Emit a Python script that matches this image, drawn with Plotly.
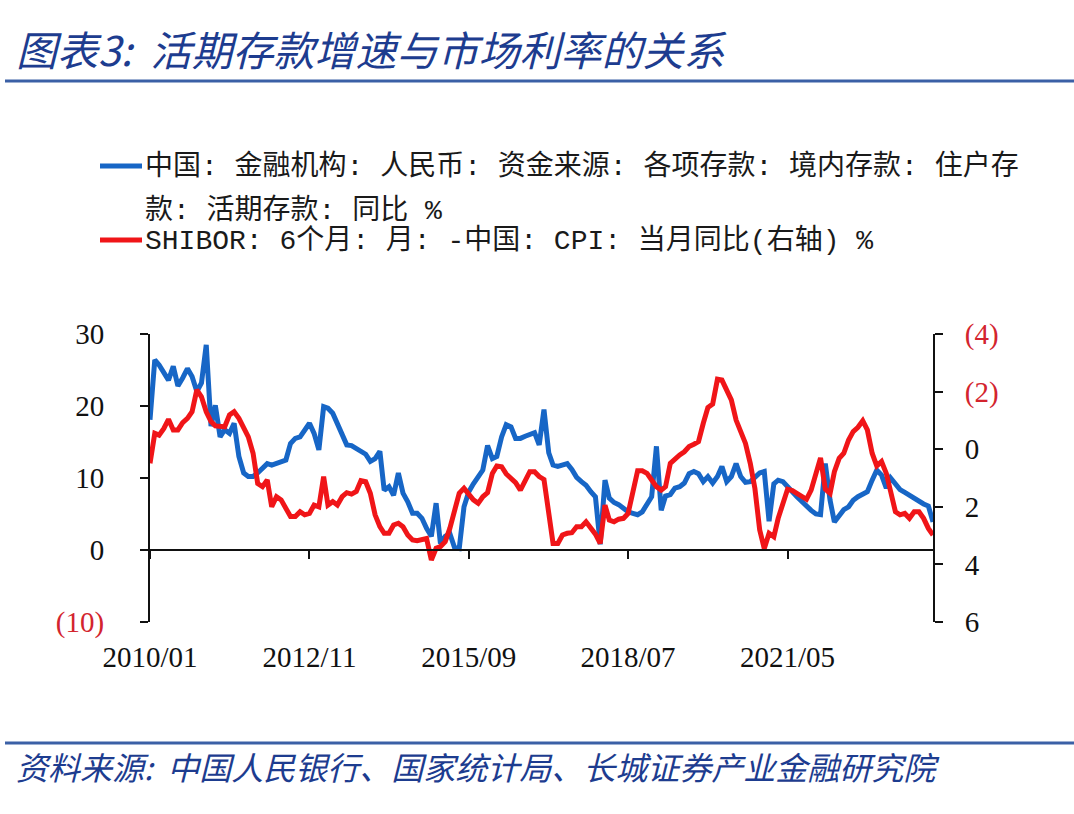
import pandas as pd
import plotly.graph_objects as go

# ---------------- data ----------------
months = pd.date_range("2010-01-01", "2023-12-01", freq="MS")

demand_deposit_yoy = [
    18.1, 26.4, 25.7, 24.5, 23.6, 25.5, 22.8, 23.9, 25.2, 24.1, 22.0, 23.2,
    28.5, 17.2, 20.1, 15.7, 16.7, 16.2, 17.6, 13.0, 10.7, 10.2, 10.2, 10.7,
    11.4, 12.0, 11.8, 12.0, 12.3, 12.5, 14.8, 15.5, 15.7, 16.7, 17.6, 16.2,
    13.9, 19.9, 19.7, 19.0, 17.6, 16.0, 14.6, 14.5, 14.1, 13.8, 13.3, 12.3,
    12.7, 13.7, 8.3, 8.8, 7.6, 10.7, 7.9, 6.7, 5.1, 5.1, 4.4, 3.0,
    1.9, 6.5, 0.9, 1.9, 2.3, 0.3, 0.2, 6.0, 8.1, 9.2, 10.2, 11.1,
    14.5, 12.7, 13.0, 15.7, 17.4, 17.1, 15.5, 15.5, 15.8, 16.0, 16.3, 14.6,
    19.5, 13.5, 11.8, 11.6, 11.8, 12.0, 11.2, 10.1, 9.5, 9.0, 8.1, 7.4,
    0.8, 9.7, 7.2, 6.6, 6.3, 5.8, 5.3, 5.1, 4.9, 5.3, 6.3, 7.4,
    14.4, 5.5, 7.5, 7.7, 8.6, 8.8, 9.3, 10.6, 10.9, 10.6, 9.5, 10.2,
    9.3, 10.2, 11.6, 9.5, 10.2, 12.0, 10.2, 9.4, 9.5, 10.2, 10.7, 10.9,
    4.0, 9.2, 9.7, 9.5, 8.9, 8.1, 7.4, 6.7, 6.1, 5.5, 5.0, 4.9,
    12.0, 6.9, 3.9, 4.9, 5.6, 6.0, 6.9, 7.4, 7.8, 8.1, 9.7, 11.1,
    10.4, 8.6, 10.0, 9.3, 8.4, 8.0, 7.6, 7.2, 6.6, 6.4, 6.1, 3.9,
]

shibor_minus_cpi = [
    0.49, -0.55, -0.49, -0.72, -1.04, -0.67, -0.67, -0.92, -1.07, -1.30, -2.06, -1.82,
    -1.30, -0.96, -0.81, -0.81, -0.78, -1.19, -1.30, -1.07, -0.78, -0.43, 0.14, 1.19,
    1.30, 1.07, 2.00, 1.65, 1.76, 2.05, 2.34, 2.34, 2.17, 2.28, 2.23, 1.94,
    2.00, 0.95, 1.94, 1.82, 1.94, 1.65, 1.51, 1.56, 1.47, 1.09, 1.13, 1.53,
    2.28, 2.69, 2.92, 2.92, 2.63, 2.57, 2.69, 2.98, 3.15, 3.18, 3.13, 3.10,
    3.85, 3.44, 3.38, 3.21, 2.75, 2.05, 1.53, 1.36, 1.59, 1.76, 1.88, 1.65,
    1.51, 0.84, 0.58, 0.61, 0.86, 1.01, 1.16, 1.42, 1.07, 0.78, 0.78, 0.95,
    1.05, 2.23, 3.27, 3.27, 2.98, 2.92, 2.90, 2.69, 2.69, 2.52, 2.75, 2.95,
    3.27, 1.94, 2.46, 2.52, 2.43, 2.40, 2.23, 1.42, 0.75, 0.75, 0.84, 1.07,
    1.30, 1.42, 1.30, 0.49, 0.32, 0.20, 0.09, -0.09, -0.17, -0.26, -0.90, -1.45,
    -1.57, -2.43, -2.40, -2.06, -1.71, -1.01, -0.61, -0.20, 0.49, 1.36, 2.80, 3.45,
    2.92, 3.04, 2.40, 1.82, 1.39, 1.44, 1.53, 1.65, 1.74, 1.42, 0.90, 0.30,
    1.39, 1.53, 0.78, 0.32, 0.14, -0.32, -0.61, -0.76, -0.99, -0.67, 0.14, 0.58,
    0.43, 0.84, 1.47, 2.17, 2.28, 2.23, 2.40, 2.17, 2.17, 2.40, 2.75, 2.98,
]

x_tick_dates = ["2010-01-01", "2012-11-01", "2015-09-01", "2018-07-01", "2021-05-01"]
x_tick_labels = ["2010/01", "2012/11", "2015/09", "2018/07", "2021/05"]

left_tick_vals = [-10, 0, 10, 20, 30]
left_tick_labels = ["(10)", "0", "10", "20", "30"]
right_tick_vals = [-4, -2, 0, 2, 4, 6]
right_tick_labels = ["(4)", "(2)", "0", "2", "4", "6"]

title_text = "图表3:  活期存款增速与市场利率的关系"
legend_line1 = "中国: 金融机构: 人民币: 资金来源: 各项存款: 境内存款: 住户存"
legend_line2 = "款: 活期存款: 同比 %"
legend_red = "SHIBOR: 6个月: 月: -中国: CPI: 当月同比(右轴) %"
source_text = "资料来源:  中国人民银行、国家统计局、长城证券产业金融研究院"

# ---------------- styles ----------------
BLUE = "#1766c6"
RED = "#f01518"
NEG = "#d3242e"
NAVY = "#1d3c8f"
TICK_FONT = dict(family="Liberation Serif, Noto Sans CJK SC", size=29, color="#111111")


def fmt(label):
    if label.startswith("("):
        return f'<span style="color:{NEG}">{label}</span>'
    return label


# plot area in pixels
L, R, T, B = 150, 933, 334, 622
W, H = R - L, B - T


def fx(px):
    return (px - L) / W


def fy(py):
    return (B - py) / H


fig = go.Figure()

fig.add_trace(go.Scatter(
    x=months, y=shibor_minus_cpi, mode="lines", xaxis="x2", yaxis="y2",
    line=dict(color=RED, width=5), showlegend=False,
))
fig.add_trace(go.Scatter(
    x=months, y=demand_deposit_yoy, mode="lines", xaxis="x", yaxis="y",
    line=dict(color=BLUE, width=5), showlegend=False,
))

xrange_ = [months[0], months[-1]]

fig.update_layout(
    width=1074, height=814,
    margin=dict(l=L, r=1074 - R, t=T, b=814 - B),
    paper_bgcolor="white", plot_bgcolor="white",
    xaxis=dict(
        range=xrange_, showgrid=False, zeroline=False, showline=False,
        ticks="", tickvals=x_tick_dates, ticktext=x_tick_labels,
        tickfont=TICK_FONT, ticklabelstandoff=15,
    ),
    xaxis2=dict(
        range=xrange_, matches="x", overlaying="x", anchor="free", position=0.25,
        showgrid=False, zeroline=False, showline=True, linecolor="#111111", linewidth=2,
        ticks="outside", ticklen=8, tickwidth=2, tickcolor="#111111",
        tickvals=x_tick_dates, showticklabels=False,
    ),
    yaxis=dict(
        range=[-10, 30], showgrid=False, zeroline=False, showline=True,
        linecolor="#111111", linewidth=2, ticks="outside", ticklen=8, tickwidth=2,
        tickcolor="#111111", tickvals=left_tick_vals,
        ticktext=[fmt(t) for t in left_tick_labels],
        tickfont=TICK_FONT, ticklabelstandoff=30,
    ),
    yaxis2=dict(
        range=[6, -4], overlaying="y", side="right", anchor="x2",
        showgrid=False, zeroline=False, showline=True,
        linecolor="#111111", linewidth=2, ticks="outside", ticklen=8, tickwidth=2,
        tickcolor="#111111", tickvals=right_tick_vals,
        ticktext=[fmt(t) for t in right_tick_labels],
        tickfont=TICK_FONT, ticklabelstandoff=16,
    ),
    showlegend=False,
)

# title & source
fig.add_annotation(
    xref="paper", yref="paper", x=fx(14), y=fy(48), xanchor="left", yanchor="middle",
    text=f"<i>{title_text}</i>", showarrow=False,
    font=dict(family="Noto Sans CJK SC", size=41, color=NAVY),
)
fig.add_annotation(
    xref="paper", yref="paper", x=fx(14), y=fy(766), xanchor="left", yanchor="middle",
    text=f"<i>{source_text}</i>", showarrow=False,
    font=dict(family="Noto Sans CJK SC", size=32, color=NAVY),
)
for yy in (81, 743):
    fig.add_shape(type="line", xref="paper", yref="paper",
                  x0=fx(5), x1=fx(1074), y0=fy(yy), y1=fy(yy),
                  line=dict(color="#3b60a6", width=3))

# legend
LEG_FONT = dict(family="Liberation Mono, Noto Sans CJK SC", size=28, color="#1a1a1a")
for txt, yy in ((legend_line1, 166), (legend_line2, 210), (legend_red, 240)):
    fig.add_annotation(
        xref="paper", yref="paper", x=fx(143), y=fy(yy), xanchor="left", yanchor="middle",
        text=txt, showarrow=False, font=LEG_FONT,
    )
for col, yy in ((BLUE, 166), (RED, 240)):
    fig.add_shape(type="line", xref="paper", yref="paper",
                  x0=fx(100), x1=fx(142), y0=fy(yy), y1=fy(yy),
                  line=dict(color=col, width=5))

fig.write_html("out.html")
